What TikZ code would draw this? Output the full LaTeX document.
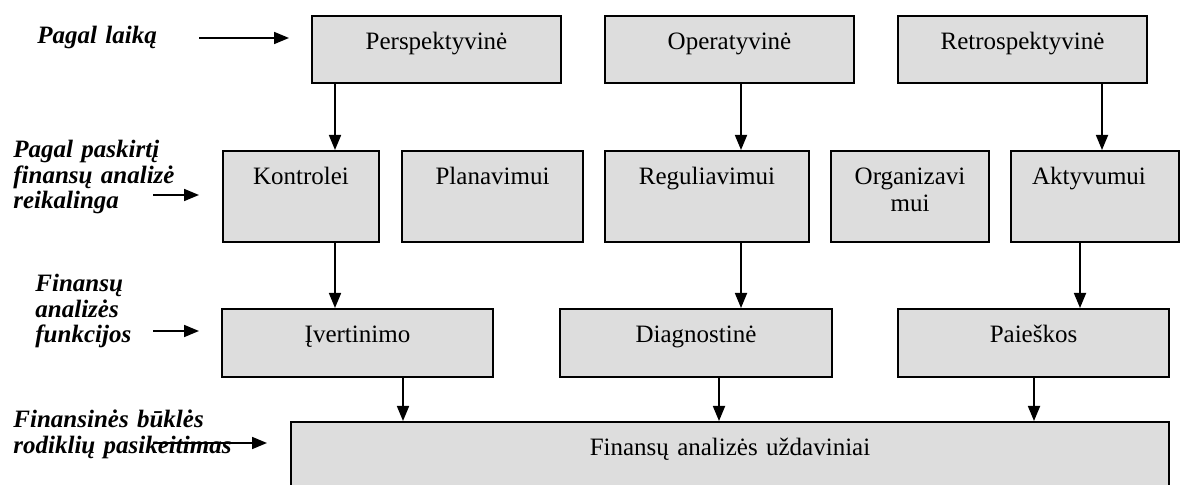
\documentclass[tikz,border=0pt]{standalone}
\usepackage{fontspec}
\setmainfont{Liberation Serif}
\usetikzlibrary{arrows.meta}
\definecolor{boxgray}{RGB}{221,221,221}
\begin{document}
\begin{tikzpicture}[x=0.5pt,y=-0.5pt,
  box/.style={draw=black, line width=0.9pt, fill=boxgray, inner xsep=0pt, inner ysep=0pt,
    anchor=north, align=center, font=\fontsize{12.5}{13.5}\selectfont, text height=17pt},
  rowa/.style={box, text depth=16.5pt},
  rowb/.style={box, text depth=28.5pt},
  rowc/.style={box, text depth=17pt},
  rowd/.style={box, text depth=32.5pt},
  lab/.style={font=\fontsize{12.5}{12.6}\selectfont\bfseries\itshape, align=left,
    inner sep=0pt, anchor=base west, text width=110pt},
  conn/.style={line width=0.85pt, -{Triangle[width=6pt,length=7.5pt]}}
]
\clip (0,0) rectangle (1181,485);

% row 1
\node[rowa, text width=124.5pt] (persp) at (436.5,15) {Perspektyvinė};
\node[rowa, text width=124.5pt] (oper) at (729.5,15) {Operatyvinė};
\node[rowa, text width=124.5pt] (retro) at (1022.5,15) {Retrospektyvinė};

% row 2
\node[rowb, text width=78pt] (kontr) at (301,150) {Kontrolei};
\node[rowb, text width=90.5pt] (plan) at (492.5,150) {Planavimui};
\node[rowb, text width=102pt] (regul) at (707,150) {Reguliavimui};
\node[rowb, text width=79pt] (organ) at (910,150) {Organizavi\\mui};
\node[rowb, text width=84pt, align=left] (aktyv) at (1095,150) {\hspace*{10.5pt}Aktyvumui};

% row 3
\node[rowc, text width=135.5pt] (iver) at (357.5,308) {Įvertinimo};
\node[rowc, text width=136pt] (diag) at (696,308) {Diagnostinė};
\node[rowc, text width=135.5pt] (paiesk) at (1033.5,308) {Paieškos};

% row 4
\node[rowd, text width=439pt] (uzd) at (730,421) {Finansų analizės uždaviniai};

% vertical connectors
\draw[conn] (persp.south -| 335,0) -- (kontr.north -| 335,0);
\draw[conn] (oper.south -| 741,0) -- (regul.north -| 741,0);
\draw[conn] (retro.south -| 1102,0) -- (aktyv.north -| 1102,0);
\draw[conn] (kontr.south -| 335,0) -- (iver.north -| 335,0);
\draw[conn] (regul.south -| 741,0) -- (diag.north -| 741,0);
\draw[conn] (aktyv.south -| 1080,0) -- (paiesk.north -| 1080,0);
\draw[conn] (iver.south -| 403,0) -- (uzd.north -| 403,0);
\draw[conn] (diag.south -| 719,0) -- (uzd.north -| 719,0);
\draw[conn] (paiesk.south -| 1034,0) -- (uzd.north -| 1034,0);

% left labels
\node[lab] (l1) at (37,44) {Pagal laiką};
\node[lab] (l2) at (13,158) {Pagal paskirtį\\finansų analizė\\reikalinga};
\node[lab] (l3) at (35,292) {Finansų\\analizės\\funkcijos};
\node[lab] (l4) at (13,428) {Finansinės būklės\\rodiklių pasikeitimas};

% left arrows
\coordinate (a1s) at (199,38); \coordinate (a1e) at (289,38);
\coordinate (a2s) at (153,195); \coordinate (a2e) at (199,195);
\coordinate (a3s) at (153,331); \coordinate (a3e) at (199,331);
\coordinate (a4s) at (153,443); \coordinate (a4e) at (267,443);
\draw[conn] (a1s) -- (a1e);
\draw[conn] (a2s) -- (a2e);
\draw[conn] (a3s) -- (a3e);
\draw[conn] (a4s) -- (a4e);
\end{tikzpicture}
\end{document}
